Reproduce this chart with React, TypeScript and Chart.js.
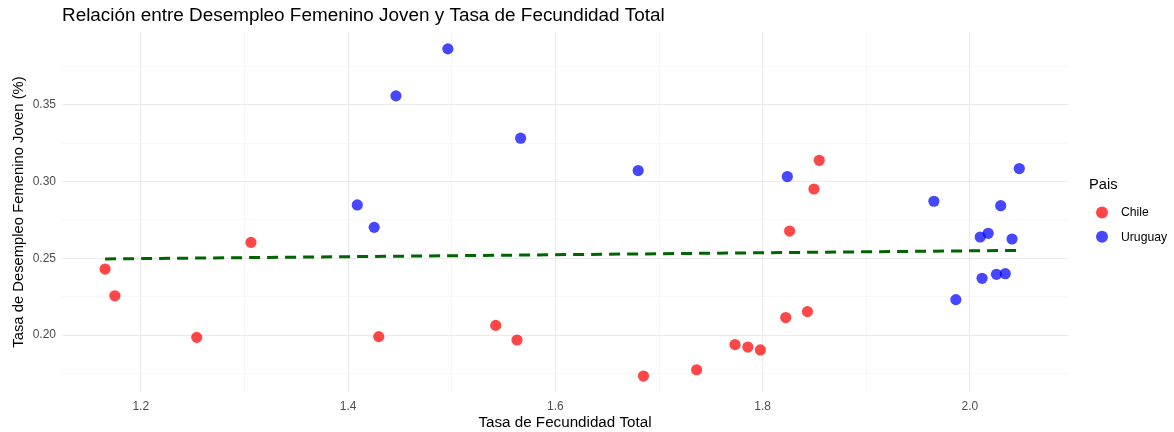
import React, { useEffect, useRef } from "react";
import { Chart, registerables } from "chart.js";

Chart.register(...registerables);

const chartTitle = "Relación entre Desempleo Femenino Joven y Tasa de Fecundidad Total";
const xTitle = "Tasa de Fecundidad Total";
const yTitle = "Tasa de Desempleo Femenino Joven (%)";
const legendTitle = "Pais";
const seriesNames = ["Chile", "Uruguay"];
const seriesColors = ["rgba(255, 0, 0, 0.72)", "rgba(0, 0, 255, 0.72)"];

const chileX = [1.1656, 1.175, 1.254, 1.3063, 1.4296, 1.5425, 1.563, 1.685, 1.7363, 1.7733, 1.7857, 1.7978, 1.8223, 1.8432, 1.826, 1.8495, 1.8546];
const chileY = [0.243, 0.2256, 0.1985, 0.2604, 0.199, 0.2063, 0.1968, 0.1733, 0.1774, 0.1938, 0.1922, 0.1903, 0.2114, 0.2153, 0.2678, 0.2952, 0.3139];

const uruguayX = [1.4089, 1.4252, 1.4462, 1.4963, 1.5665, 1.6799, 1.8238, 1.9652, 1.9864, 2.0099, 2.0117, 2.0176, 2.0256, 2.0297, 2.0341, 2.0406, 2.0476];
const uruguayY = [0.2848, 0.2702, 0.3559, 0.3865, 0.3283, 0.3072, 0.3033, 0.2872, 0.2231, 0.2639, 0.237, 0.2663, 0.2396, 0.2843, 0.24, 0.2626, 0.3085];

const trendX = [1.1656, 2.0476];
const trendY = [0.2496, 0.2552];

const FONT = "'Liberation Sans', Arial, Helvetica, sans-serif";

const toPoints = (xs: number[], ys: number[]) => xs.map((x, i) => ({ x, y: ys[i] }));

export default function App() {
  const canvasRef = useRef<HTMLCanvasElement | null>(null);

  useEffect(() => {
    if (!canvasRef.current) return;

    const decorPlugin = {
      id: "ggDecor",
      afterDraw(chart: any) {
        const { ctx, chartArea } = chart;
        ctx.save();
        ctx.font = `18.9px ${FONT}`;
        ctx.fillStyle = "#000000";
        ctx.textAlign = "left";
        ctx.textBaseline = "middle";
        ctx.fillText(chartTitle, chartArea.left, 16);

        const cy = (chartArea.top + chartArea.bottom) / 2;
        const lx = chartArea.right;
        ctx.font = `14.7px ${FONT}`;
        ctx.fillText(legendTitle, lx + 21, cy - 27);
        ctx.font = `12.2px ${FONT}`;
        seriesNames.forEach((name, i) => {
          const y = cy + 0.5 + i * 24.3;
          ctx.beginPath();
          ctx.fillStyle = seriesColors[i];
          ctx.arc(lx + 34, y, 6, 0, Math.PI * 2);
          ctx.fill();
          ctx.fillStyle = "#000000";
          ctx.fillText(name, lx + 53, y + 0.5);
        });
        ctx.restore();
      },
    };

    const chart = new Chart(canvasRef.current, {
      type: "scatter",
      data: {
        datasets: [
          {
            label: seriesNames[0],
            data: toPoints(chileX, chileY),
            backgroundColor: seriesColors[0],
            borderWidth: 0,
            pointRadius: 5.6,
            pointStyle: "circle",
            order: 1,
          },
          {
            label: seriesNames[1],
            data: toPoints(uruguayX, uruguayY),
            backgroundColor: seriesColors[1],
            borderWidth: 0,
            pointRadius: 5.6,
            pointStyle: "circle",
            order: 1,
          },
          {
            label: "trend",
            type: "line",
            data: toPoints(trendX, trendY),
            borderColor: "#006400",
            borderWidth: 3,
            borderDash: [11, 7],
            pointRadius: 0,
            fill: false,
            order: 0,
          } as any,
        ],
      },
      options: {
        animation: false,
        responsive: true,
        maintainAspectRatio: false,
        layout: { padding: { top: 32, left: 0, right: 106, bottom: 0 } },
        plugins: {
          title: { display: false },
          tooltip: { enabled: false },
          legend: { display: false },
        },
        scales: {
          x: {
            type: "linear",
            min: 1.124,
            max: 2.0946,
            border: { display: false },
            grid: {
              drawTicks: false,
              color: (c: any) => (Math.round(c.tick.value * 10) % 2 === 0 ? "#EBEBEB" : "#F4F4F4"),
              lineWidth: (c: any) => (Math.round(c.tick.value * 10) % 2 === 0 ? 1.1 : 0.8),
            },
            ticks: {
              stepSize: 0.1,
              includeBounds: false,
              autoSkip: false,
              maxRotation: 0,
              padding: 7,
              color: "#4D4D4D",
              font: { family: FONT, size: 12 },
              callback: (v: any) => (Math.round(Number(v) * 10) % 2 === 0 ? Number(v).toFixed(1) : ""),
            },
            title: {
              display: true,
              text: xTitle,
              color: "#000000",
              font: { family: FONT, size: 15.2 },
              padding: { top: 0, bottom: 0 },
            },
            afterFit: (s: any) => {
              s.height = 40;
            },
          },
          y: {
            type: "linear",
            min: 0.1629,
            max: 0.3975,
            border: { display: false },
            grid: {
              drawTicks: false,
              color: (c: any) => (Math.round(c.tick.value * 1000) % 50 === 0 ? "#EBEBEB" : "#F4F4F4"),
              lineWidth: (c: any) => (Math.round(c.tick.value * 1000) % 50 === 0 ? 1.1 : 0.8),
            },
            ticks: {
              stepSize: 0.025,
              includeBounds: false,
              autoSkip: false,
              padding: 6,
              color: "#4D4D4D",
              font: { family: FONT, size: 12 },
              callback: (v: any) => (Math.round(Number(v) * 1000) % 50 === 0 ? Number(v).toFixed(2) : ""),
            },
            title: {
              display: true,
              text: yTitle,
              color: "#000000",
              font: { family: FONT, size: 14.8 },
              padding: { top: 10, bottom: 0 },
            },
            afterFit: (s: any) => {
              s.width = 62;
            },
          },
        },
      },
      plugins: [decorPlugin],
    });

    return () => chart.destroy();
  }, []);

  return (
    <div style={{ position: "fixed", left: 0, top: 0, width: 1174, height: 432, background: "#FFFFFF" }}>
      <canvas ref={canvasRef} />
    </div>
  );
}
